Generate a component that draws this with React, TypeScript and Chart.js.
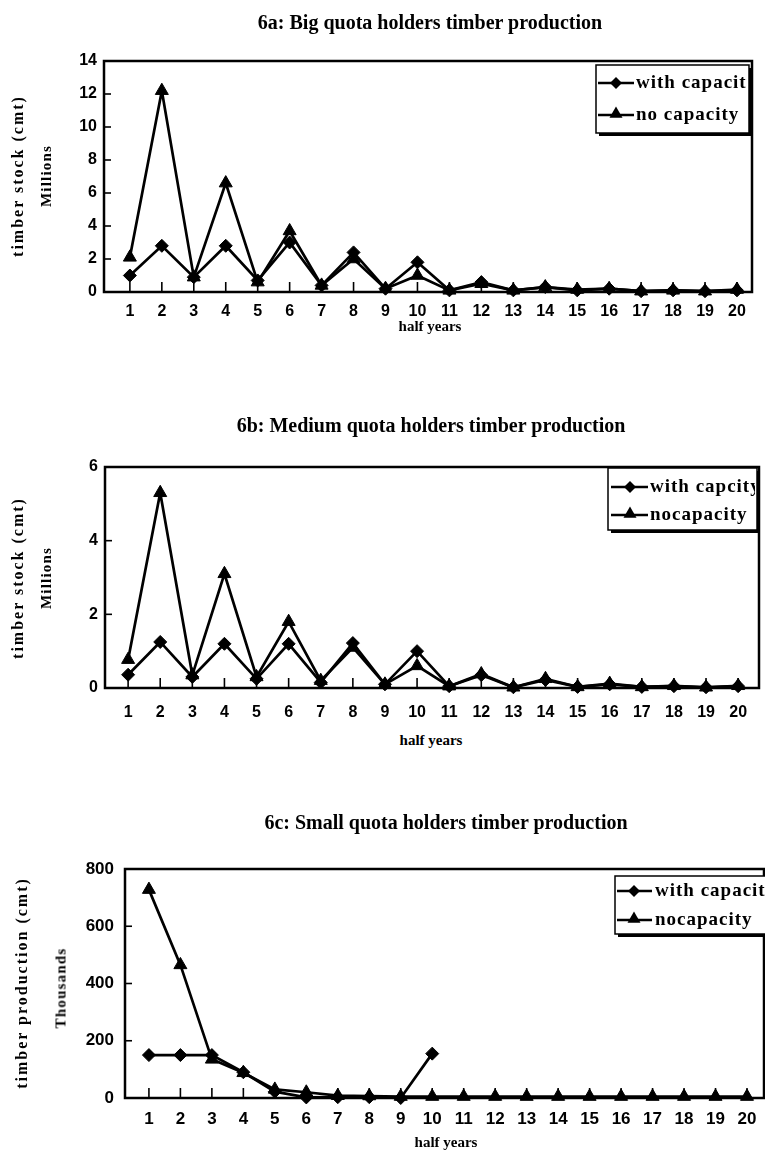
import React, { useEffect, useRef } from "react";
import { Chart, registerables } from "chart.js";

Chart.register(...registerables);

// ---------- data ----------
const halfYears = [1, 2, 3, 4, 5, 6, 7, 8, 9, 10, 11, 12, 13, 14, 15, 16, 17, 18, 19, 20];

const bigWithCapacity = [1.0, 2.8, 0.9, 2.8, 0.7, 3.0, 0.4, 2.4, 0.2, 1.8, 0.1, 0.6, 0.1, 0.3, 0.1, 0.2, 0.05, 0.1, 0.05, 0.1];
const bigNoCapacity = [2.1, 12.2, 0.9, 6.6, 0.6, 3.7, 0.4, 2.0, 0.2, 1.0, 0.1, 0.5, 0.1, 0.3, 0.15, 0.2, 0.05, 0.1, 0.05, 0.15];

const mediumWithCapacity = [0.36, 1.25, 0.3, 1.2, 0.25, 1.2, 0.15, 1.22, 0.1, 1.0, 0.05, 0.35, 0.02, 0.22, 0.03, 0.1, 0.03, 0.05, 0.02, 0.05];
const mediumNoCapacity = [0.77, 5.3, 0.35, 3.1, 0.3, 1.8, 0.2, 1.1, 0.1, 0.6, 0.05, 0.38, 0.02, 0.25, 0.03, 0.12, 0.03, 0.06, 0.02, 0.06];

const smallWithCapacity = [150, 150, 150, 90, 22, 2, 3, 3, 0, 155, null, null, null, null, null, null, null, null, null, null];
const smallNoCapacity = [728, 465, 135, 88, 30, 20, 8, 7, 5, 5, 5, 5, 5, 5, 5, 5, 5, 5, 5, 5];

const bigTicks = [0, 2, 4, 6, 8, 10, 12, 14];
const mediumTicks = [0, 2, 4, 6];
const smallTicks = [0, 200, 400, 600, 800];

const bigLegend = ["with capacity", "no capacity"];
const mediumLegend = ["with capcity", "nocapacity"];
const smallLegend = ["with capacity", "nocapacity"];

const titles = [
  "6a: Big quota holders timber production",
  "6b: Medium quota holders timber production",
  "6c: Small quota holders timber production",
];
const yTitles = ["timber stock (cmt)", "timber stock (cmt)", "timber production (cmt)"];
const yUnits = ["Millions", "Millions", "Thousands"];
const xTitle = "half years";

// ---------- layout / style ----------
const SERIF = '"Liberation Serif", "Times New Roman", serif';
const SANS = '"Liberation Sans", Arial, sans-serif';

type Cfg = {
  top: number; height: number; chartTop: number; chartBottom: number;
  left: number; right: number; xMin: number; xMax: number;
  yTicks: number[]; tickFont: number; yPad: number; xPad: number;
  series: (number | null)[][]; labels: string[];
  legend: { box: number[]; rows: number[]; sample: number[]; marker: number; text: number; font: number; offset: number };
};

const configs: Cfg[] = [
  {
    top: 0, height: 332, chartTop: 61, chartBottom: 292, left: 104, right: 752,
    xMin: 0.19, xMax: 20.47, yTicks: bigTicks, tickFont: 16, yPad: 7, xPad: 10,
    series: [bigWithCapacity, bigNoCapacity], labels: bigLegend,
    legend: { box: [596, 65, 749, 133], rows: [83, 115], sample: [598, 634], marker: 616, text: 636, font: 19, offset: 0 },
  },
  {
    top: 400, height: 328, chartTop: 467, chartBottom: 688, left: 105, right: 759,
    xMin: 0.28, xMax: 20.65, yTicks: mediumTicks, tickFont: 16, yPad: 7, xPad: 15,
    series: [mediumWithCapacity, mediumNoCapacity], labels: mediumLegend,
    legend: { box: [608, 468, 757, 530], rows: [487, 515], sample: [611, 648], marker: 630, text: 650, font: 19, offset: 400 },
  },
  {
    top: 780, height: 358, chartTop: 869, chartBottom: 1098, left: 125, right: 764,
    xMin: 0.24, xMax: 20.54, yTicks: smallTicks, tickFont: 17, yPad: 11, xPad: 11,
    series: [smallWithCapacity, smallNoCapacity], labels: smallLegend,
    legend: { box: [615, 876, 800, 934], rows: [891, 920], sample: [617, 652], marker: 634, text: 655, font: 19, offset: 780 },
  },
];

function diamond(ctx: CanvasRenderingContext2D, x: number, y: number, r: number) {
  ctx.beginPath();
  ctx.moveTo(x - r, y);
  ctx.lineTo(x, y - r);
  ctx.lineTo(x + r, y);
  ctx.lineTo(x, y + r);
  ctx.closePath();
  ctx.fill();
}
function triangle(ctx: CanvasRenderingContext2D, x: number, y: number, r: number) {
  ctx.beginPath();
  ctx.moveTo(x, y - r);
  ctx.lineTo(x + r * 0.866, y + r * 0.5);
  ctx.lineTo(x - r * 0.866, y + r * 0.5);
  ctx.closePath();
  ctx.fill();
}

const framePlugin = {
  id: "frame",
  beforeDatasetsDraw(chart: any) {
    const { ctx, chartArea: a, scales } = chart;
    const x = scales.x, y = scales.y;
    ctx.save();
    ctx.strokeStyle = "#000";
    ctx.lineWidth = 1.6;
    x.ticks.forEach((t: any) => {
      const px = x.getPixelForValue(t.value);
      ctx.beginPath();
      ctx.moveTo(px, a.bottom);
      ctx.lineTo(px, a.bottom - 10);
      ctx.stroke();
    });
    y.ticks.forEach((t: any) => {
      const py = y.getPixelForValue(t.value);
      ctx.beginPath();
      ctx.moveTo(a.left, py);
      ctx.lineTo(a.left + 7, py);
      ctx.stroke();
    });
    ctx.lineWidth = 2.5;
    ctx.strokeRect(a.left, a.top, a.right - a.left, a.bottom - a.top);
    ctx.restore();
  },
  afterDatasetsDraw(chart: any, _args: any, opts: any) {
    const lg = opts && opts.legend;
    if (!lg) return;
    const { ctx } = chart;
    const off = lg.offset;
    const l = lg.box[0], t = lg.box[1] - off, r = lg.box[2], b = lg.box[3] - off;
    ctx.save();
    // shadow
    ctx.fillStyle = "#000";
    ctx.fillRect(l + 3, t + 3, r - l, b - t);
    ctx.fillStyle = "#fff";
    ctx.fillRect(l, t, r - l, b - t);
    ctx.strokeStyle = "#000";
    ctx.lineWidth = 1.5;
    ctx.strokeRect(l, t, r - l, b - t);
    ctx.beginPath();
    ctx.rect(l + 1, t + 1, r - l - 3, b - t - 2);
    ctx.clip();
    chart.data.datasets.forEach((ds: any, i: number) => {
      const yy = lg.rows[i] - off;
      ctx.strokeStyle = "#000";
      ctx.lineWidth = 2.5;
      ctx.beginPath();
      ctx.moveTo(lg.sample[0], yy);
      ctx.lineTo(lg.sample[1], yy);
      ctx.stroke();
      ctx.fillStyle = "#000";
      if (i === 0) diamond(ctx, lg.marker, yy, 6);
      else triangle(ctx, lg.marker, yy - 1, 7.5);
      ctx.font = `bold ${lg.font}px ${SERIF}`;
      (ctx as any).letterSpacing = "1px";
      ctx.textBaseline = "middle";
      ctx.textAlign = "left";
      ctx.fillText(ds.label, lg.text, yy);
      (ctx as any).letterSpacing = "0px";
    });
    ctx.restore();
  },
};

function LineChart({ cfg }: { cfg: Cfg }) {
  const ref = useRef<HTMLCanvasElement | null>(null);
  useEffect(() => {
    if (!ref.current) return;
    const xAxisH = cfg.top + cfg.height - cfg.chartBottom;
    const chart = new Chart(ref.current, {
      type: "line",
      data: {
        datasets: cfg.series.map((vals, i) => ({
          label: cfg.labels[i],
          data: halfYears.map((h, j) => ({ x: h, y: vals[j] })),
          borderColor: "#000",
          backgroundColor: "#000",
          borderWidth: 2.7,
          pointStyle: i === 0 ? "rectRot" : "triangle",
          pointRadius: i === 0 ? 6.5 : 7.5,
          pointBackgroundColor: "#000",
          pointBorderColor: "#000",
          pointBorderWidth: 1,
          tension: 0,
          spanGaps: false,
          clip: false,
        })) as any,
      },
      options: {
        animation: false,
        responsive: false,
        maintainAspectRatio: false,
        devicePixelRatio: 1,
        layout: {
          autoPadding: false,
          padding: { top: cfg.chartTop - cfg.top, left: 0, right: 765 - cfg.right, bottom: 0 },
        },
        plugins: {
          legend: { display: false },
          tooltip: { enabled: false },
          title: { display: false },
          frame: { legend: cfg.legend },
        } as any,
        scales: {
          x: {
            type: "linear",
            min: cfg.xMin,
            max: cfg.xMax,
            afterBuildTicks: (scale: any) => {
              scale.ticks = halfYears.map((v) => ({ value: v }));
            },
            afterFit: (scale: any) => {
              scale.height = xAxisH;
              scale.paddingLeft = 0;
              scale.paddingRight = 0;
            },
            grid: { display: false, drawTicks: false },
            border: { display: false },
            ticks: {
              autoSkip: false,
              maxRotation: 0,
              padding: cfg.xPad,
              color: "#000",
              font: { family: SANS, size: cfg.tickFont, weight: "bold" },
              callback: (v: any) => String(v),
            },
          },
          y: {
            type: "linear",
            min: cfg.yTicks[0],
            max: cfg.yTicks[cfg.yTicks.length - 1],
            afterBuildTicks: (scale: any) => {
              scale.ticks = cfg.yTicks.map((v) => ({ value: v }));
            },
            afterFit: (scale: any) => {
              scale.width = cfg.left;
              scale.paddingTop = 0;
              scale.paddingBottom = 0;
            },
            grid: { display: false, drawTicks: false },
            border: { display: false },
            ticks: {
              padding: cfg.yPad,
              color: "#000",
              font: { family: SANS, size: cfg.tickFont, weight: "bold" },
            },
          },
        },
      },
      plugins: [framePlugin as any],
    });
    return () => chart.destroy();
  }, [cfg]);
  return (
    <canvas
      ref={ref}
      width={765}
      height={cfg.height}
      style={{ position: "absolute", left: 0, top: cfg.top, display: "block" }}
    />
  );
}

const titlePos = [
  { x: 430, y: 22 },
  { x: 431, y: 425 },
  { x: 446, y: 822 },
];
const yTitlePos = [
  { x: 18, y: 176, ux: 46, uy: 176 },
  { x: 18, y: 578, ux: 46, uy: 578 },
  { x: 22, y: 983, ux: 61, uy: 988 },
];
const xTitlePos = [
  { x: 430, y: 326 },
  { x: 431, y: 740 },
  { x: 446, y: 1142 },
];

const centered: React.CSSProperties = {
  position: "absolute",
  whiteSpace: "nowrap",
  color: "#000",
  fontFamily: SERIF,
  fontWeight: "bold",
  lineHeight: 1,
};

export default function App() {
  return (
    <div style={{ position: "absolute", left: 0, top: 0, width: 765, height: 1160, background: "#fff", overflow: "hidden" }}>
      {configs.map((cfg, i) => (
        <LineChart key={i} cfg={cfg} />
      ))}
      {titles.map((t, i) => (
        <div key={"t" + i} style={{ ...centered, left: titlePos[i].x, top: titlePos[i].y, fontSize: 20, transform: "translate(-50%, -50%)" }}>
          {t}
        </div>
      ))}
      {yTitles.map((t, i) => (
        <div key={"y" + i} style={{ ...centered, left: yTitlePos[i].x, top: yTitlePos[i].y, fontSize: 16, letterSpacing: 2, transform: "translate(-50%, -50%) rotate(-90deg)" }}>
          {t}
        </div>
      ))}
      {yUnits.map((t, i) => (
        <div key={"u" + i} style={{ ...centered, left: yTitlePos[i].ux, top: yTitlePos[i].uy, fontSize: 15, letterSpacing: 1.2, transform: "translate(-50%, -50%) rotate(-90deg)" }}>
          {t}
        </div>
      ))}
      {xTitlePos.map((p, i) => (
        <div key={"x" + i} style={{ ...centered, left: p.x, top: p.y, fontSize: 15, transform: "translate(-50%, -50%)" }}>
          {xTitle}
        </div>
      ))}
    </div>
  );
}
